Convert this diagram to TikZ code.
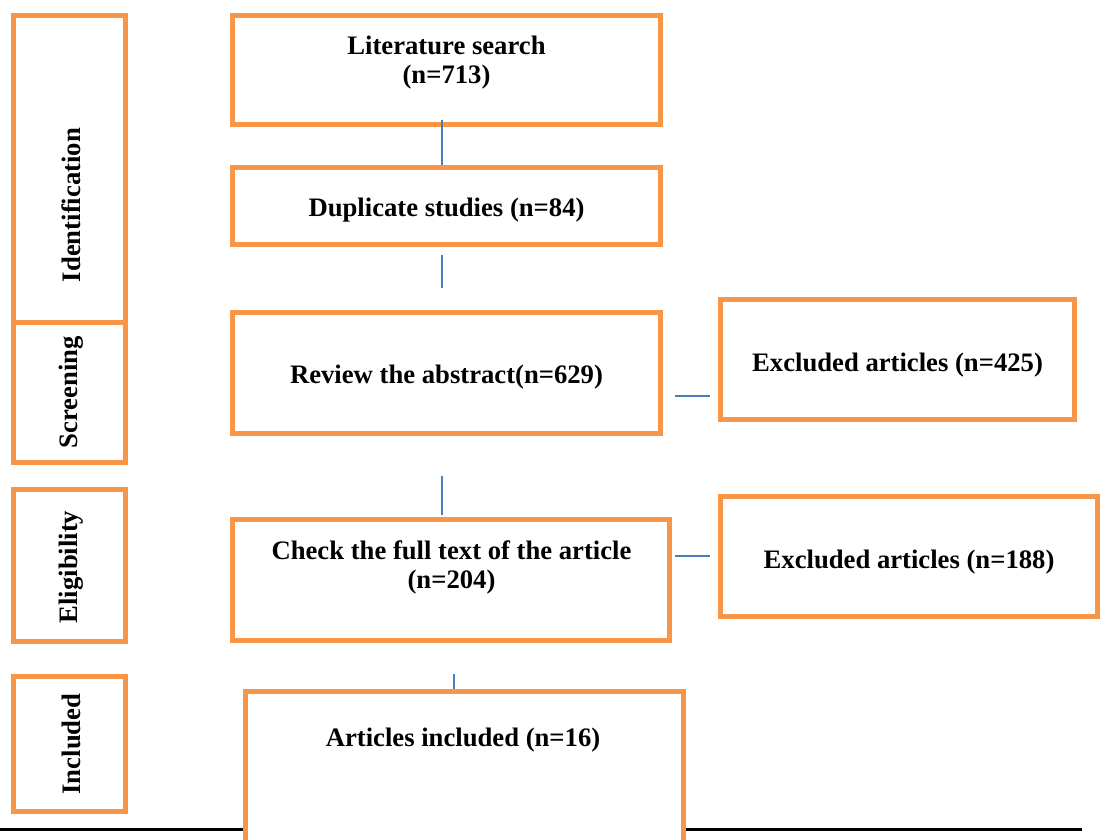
\documentclass[tikz,border=0pt]{standalone}
\usepackage{fontspec}
\setmainfont{Liberation Serif}
\usetikzlibrary{calc}
\definecolor{boxorange}{HTML}{F79646}
\definecolor{linkblue}{HTML}{4A7EBB}
\begin{document}
\begin{tikzpicture}[x=0.75pt,y=-0.75pt,
  sz/.style 2 args={minimum width=#1*0.75pt, minimum height=#2*0.75pt},
  box/.style={draw=boxorange, line width=3.75pt, fill=white, inner sep=0pt},
  lbl/.style={inner sep=0pt, font=\fontsize{20}{22}\selectfont\bfseries, align=center},
  stage/.style={lbl, rotate=90},
  link/.style={draw=linkblue, line width=1.1pt},
  rule/.style={draw=black, line width=1.6pt}]
\useasboundingbox (0,0) rectangle (1103,839);
\clip (0,0) rectangle (1103,839);
\fill[white] (0,0) rectangle (1103,839);

% bottom rule (behind the last box)
\coordinate (ruleL) at (0,829.5);
\coordinate (ruleR) at (1082,829.5);
\draw[rule] (ruleL) -- (ruleR);

% stage boxes
\node[box, sz={112}{307}] (ident) at (69.5,169) {};
\node[box, sz={112}{140}] (screen) at (69.5,392.5) {};
\node[box, sz={112}{152}] (elig) at (69.5,565.5) {};
\node[box, sz={112}{135}] (incl) at (69.5,744) {};
\node[stage] (identT) at (71,205) {Identification};
\node[stage] (screenT) at (71,392) {Screening};
\node[stage] (eligT) at (71,567) {Eligibility};
\node[stage] (inclT) at (71,744) {Included};

% main flow boxes
\node[box, sz={428}{109}] (lit) at (446.5,70) {};
\node[lbl] (litT) at (446.5,62.5) {Literature search\\(n=713)};
\node[box, sz={428}{77}] (dup) at (446.5,206) {};
\node[lbl] (dupT) at (446.5,210.5) {Duplicate studies (n=84)};
\node[box, sz={428}{121}] (rev) at (446.5,372.5) {};
\node[lbl] (revT) at (446.5,377.5) {Review the abstract(n=629)};
\node[box, sz={437}{121}] (full) at (451,580) {};
\node[lbl] (fullT) at (451.5,567.5) {Check the full text of the article\\(n=204)};
\node[box, sz={438}{200}] (inc) at (464.5,791.5) {};
\node[lbl] (incT) at (463,740) {Articles included (n=16)};

% exclusion boxes
\node[box, sz={354}{120}] (exc1) at (897.5,359.5) {};
\node[lbl] (exc1T) at (897.5,365) {Excluded articles (n=425)};
\node[box, sz={377}{120}] (exc2) at (909,556.5) {};
\node[lbl] (exc2T) at (909,562) {Excluded articles (n=188)};

% connectors
\draw[link] ($(lit.south)+(-4.5,-7.5)$) -- ($(dup.north)+(-4.5,0)$);
\draw[link] ($(dup.south)+(-4.5,7.5)$) -- ($(rev.north)+(-4.5,-21.5)$);
\draw[link] ($(rev.south)+(-4.5,40.5)$) -- ($(full.north)+(-9,-2.5)$);
\draw[link] ($(inc.north)+(-10.5,-15.5)$) -- ($(inc.north)+(-10.5,0)$);
\draw[link] ($(rev.east)+(11.5,23.5)$) -- ($(exc1.west)+(-8.5,36.5)$);
\draw[link] ($(full.east)+(2.5,-24)$) -- ($(exc2.west)+(-8.5,-0.5)$);
\end{tikzpicture}
\end{document}
